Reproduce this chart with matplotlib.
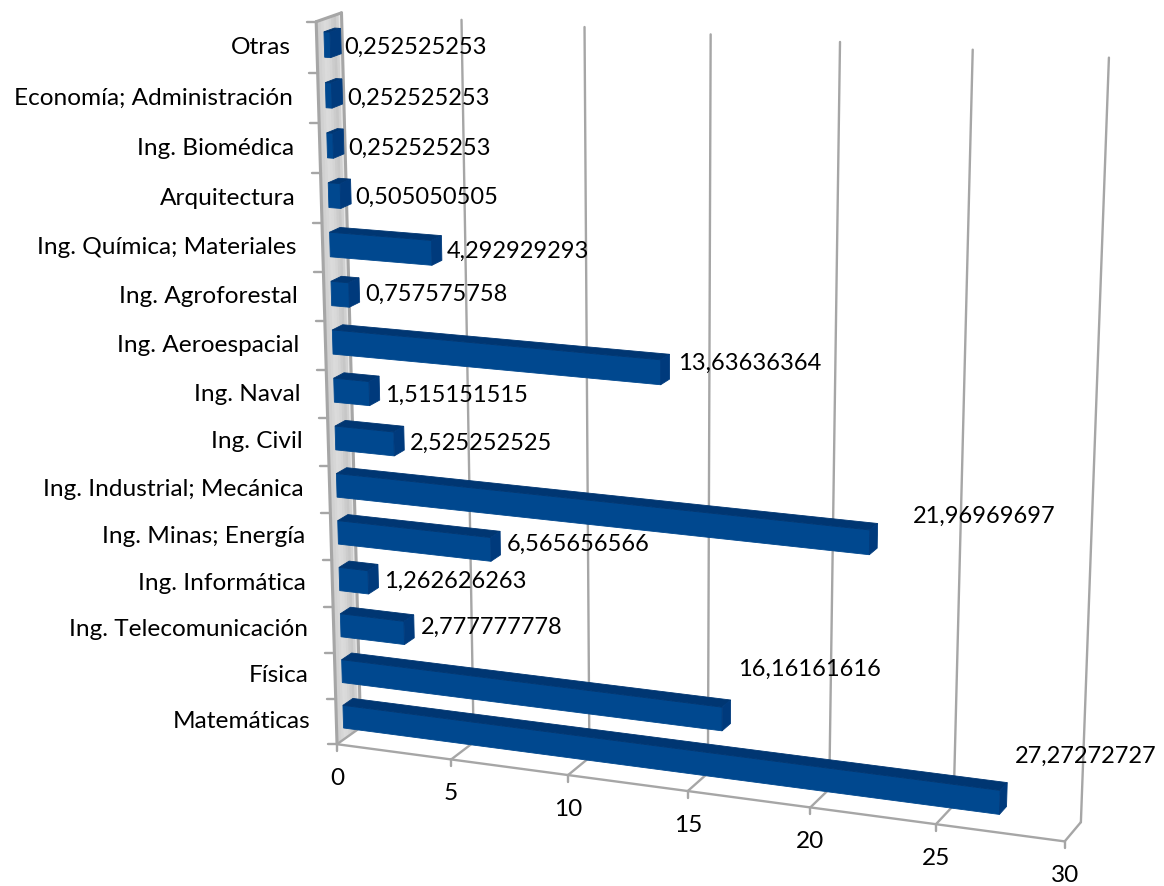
import matplotlib
matplotlib.use("Agg")
import matplotlib.pyplot as plt
from matplotlib.patches import Polygon
import numpy as np

plt.rcParams['font.family'] = ['Lato', 'DejaVu Sans']

categories = ["Matemáticas", "Física", "Ing. Telecomunicación", "Ing. Informática",
              "Ing. Minas; Energía", "Ing. Industrial; Mecánica", "Ing. Civil", "Ing. Naval",
              "Ing. Aeroespacial", "Ing. Agroforestal", "Ing. Química; Materiales",
              "Arquitectura", "Ing. Biomédica", "Economía; Administración", "Otras"]
values = [27.27272727, 16.16161616, 2.777777778, 1.262626263, 6.565656566,
          21.96969697, 2.525252525, 1.515151515, 13.63636364, 0.757575758,
          4.292929293, 0.505050505, 0.252525253, 0.252525253, 0.252525253]
value_ticks = [0, 5, 10, 15, 20, 25, 30]

# pixel shift of each value label from the bar's far top corner
label_shift = [(8, -26), (7, -31), (7, 13), (6, 17), (7, 13),
               (35, -7), (6, 17), (6, 19), (8, 9), (6, 17),
               (5, 16), (5, 18), (5, 19), (5, 19), (4, 19)]

W, H = 1164, 886
GREY = "#a6a6a6"
FRONT, TOP, END = "#00488f", "#003672", "#003a7c"
VALUE_FONT = 17
CAT_FONT = 17.6

# box corners (value, depth, category) and where they land on the page
anchors = [
    (0, 0, 0, 338, 743), (5, 0, 0, 451, 759), (10, 0, 0, 568, 776),
    (25, 0, 0, 936, 825), (30, 0, 0, 1065, 841),
    (0, 1, 0, 362, 728), (5, 1, 0, 473, 743), (10, 1, 0, 587, 758),
    (25, 1, 0, 952, 807), (30, 1, 0, 1083, 819),
    (0, 0, 15, 315, 22), (0, 1, 15, 343, 12), (5, 1, 15, 462, 18),
    (10, 1, 15, 584, 28), (15, 1, 15, 710, 35), (20, 1, 15, 840, 42),
    (25, 1, 15, 973, 50), (30, 1, 15, 1109, 58),
]


def fit_camera(points):
    rows = []
    for a, b, c, x, y in points:
        rows.append([a, b, c, 1, 0, 0, 0, 0, -x * a, -x * b, -x * c, -x])
        rows.append([0, 0, 0, 0, a, b, c, 1, -y * a, -y * b, -y * c, -y])
    return np.linalg.svd(np.array(rows, dtype=float))[2][-1].reshape(3, 4)


camera = fit_camera(anchors)


def proj(v, z, c):
    p = camera @ np.array([v, z, c, 1.0])
    return p[0] / p[2], p[1] / p[2]


fig = plt.figure(figsize=(W / 100, H / 100), dpi=100)
ax = fig.add_axes([0, 0, 1, 1])
ax.set_xlim(0, W)
ax.set_ylim(H, 0)
ax.axis("off")


def line(a, b, lw=1.7):
    ax.plot([a[0], b[0]], [a[1], b[1]], color=GREY, lw=lw, solid_capstyle="round", zorder=2)


def face(corners, color, zorder=3):
    ax.add_patch(Polygon([proj(*k) for k in corners], closed=True, fc=color, ec=color,
                         lw=0.6, zorder=zorder))


# side wall, shaded across its depth
wall_shades = [0.80, 0.82, 0.84, 0.86, 0.85, 0.83, 0.80, 0.78, 0.82, 0.90]
for k, shade in enumerate(wall_shades):
    z0, z1 = k / len(wall_shades), (k + 1) / len(wall_shades)
    col = (shade, shade, shade)
    face([(0, z0, 0), (0, z1, 0), (0, z1, 15), (0, z0, 15)], col, zorder=1)

# grid on the back wall and floor
for t in value_ticks:
    line(proj(t, 0, 0), proj(t, 1, 0))
    if t > 0:
        line(proj(t, 1, 0), proj(t, 1, 15))
    x, y = proj(t, 0, 0)
    line((x, y), (x, y + 7))
    ax.text(x, y + 34, str(t), ha="center", va="center", fontsize=CAT_FONT, color="black", zorder=5)

line(proj(0, 0, 0), proj(30, 0, 0))
line(proj(0, 0, 0), proj(0, 0, 15), lw=2.2)
line(proj(0, 1, 0), proj(0, 1, 15), lw=2.2)
line(proj(0, 0, 15), proj(0, 1, 15), lw=2.2)

for i in range(len(categories) + 1):
    x, y = proj(0, 0, i)
    line((x - 9, y), (x, y))

for i in range(len(categories) - 1, -1, -1):
    val = values[i]
    lo, hi = i + 0.25, i + 0.75
    face([(0, 0.29, lo), (val, 0.29, lo), (val, 0.29, hi), (0, 0.29, hi)], FRONT)
    face([(0, 0.29, hi), (val, 0.29, hi), (val, 0.71, hi), (0, 0.71, hi)], TOP)
    face([(val, 0.29, lo), (val, 0.71, lo), (val, 0.71, hi), (val, 0.29, hi)], END)

    x, y = proj(val, 0.71, hi)
    dx, dy = label_shift[i]
    ax.text(x + dx, y + dy, str(val).replace(".", ","), ha="left", va="center",
            fontsize=VALUE_FONT, color="black", zorder=5)

    x, y = proj(0, 0, i + 0.5)
    ax.text(x - 26, y, categories[i], ha="right", va="center", fontsize=CAT_FONT, color="black", zorder=5)

fig.savefig("out.png", dpi=100, facecolor="white")
